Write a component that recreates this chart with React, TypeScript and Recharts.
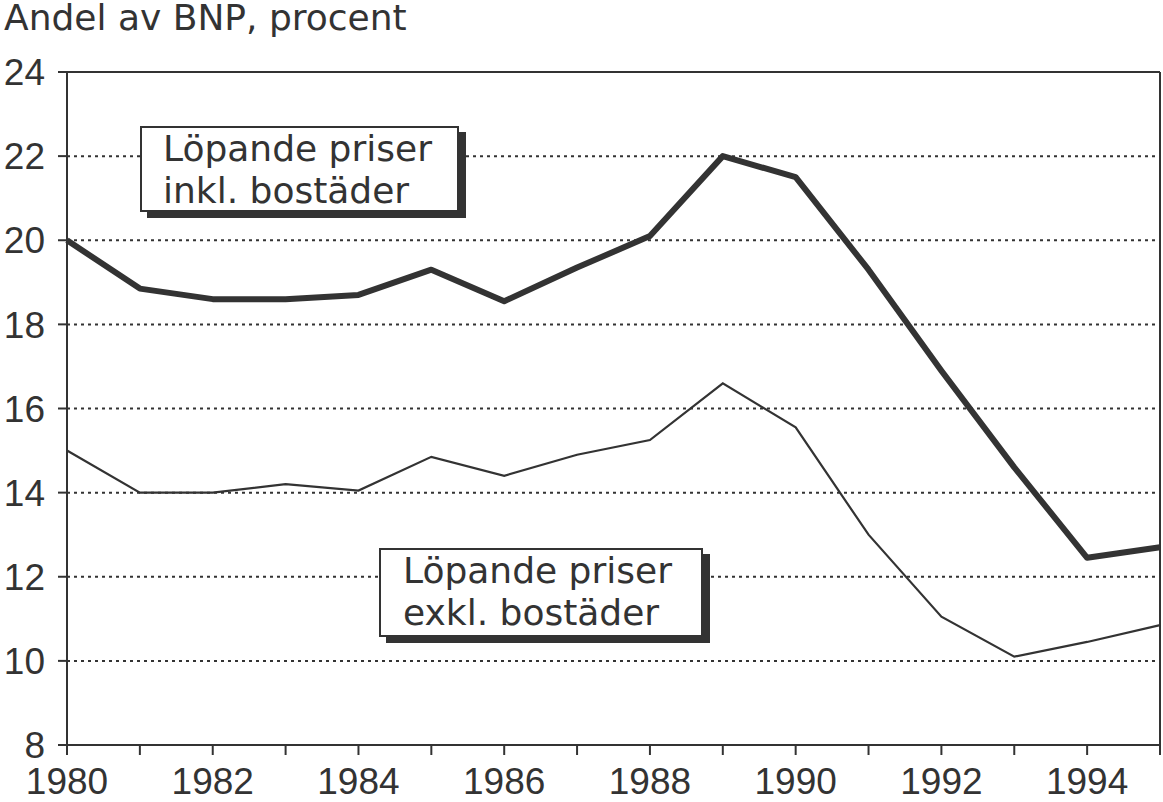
import { CartesianGrid, Line, LineChart, ReferenceLine, XAxis, YAxis } from "recharts";

const YEARS = [
  1980, 1981, 1982, 1983, 1984, 1985, 1986, 1987, 1988, 1989, 1990, 1991, 1992,
  1993, 1994, 1995,
];
const INKL_BOSTADER = [
  20.0, 18.85, 18.6, 18.6, 18.7, 19.3, 18.55, 19.35, 20.1, 22.0, 21.5, 19.3,
  16.9, 14.6, 12.45, 12.7,
];
const EXKL_BOSTADER = [
  15.0, 14.0, 14.0, 14.2, 14.05, 14.85, 14.4, 14.9, 15.25, 16.6, 15.55, 13.0,
  11.05, 10.1, 10.45, 10.85,
];
const X_LABELS = [1980, 1982, 1984, 1986, 1988, 1990, 1992, 1994];
const Y_TICKS = [8, 10, 12, 14, 16, 18, 20, 22, 24];

const INK = "#333";

const data = YEARS.map((year, i) => ({
  year,
  inkl: INKL_BOSTADER[i],
  exkl: EXKL_BOSTADER[i],
}));

const tickFont = {
  fontFamily: "'Liberation Sans', Arial, sans-serif",
  fontSize: 37,
  fill: INK,
};

const boxStyle: React.CSSProperties = {
  position: "absolute",
  boxSizing: "border-box",
  border: `2px solid ${INK}`,
  background: "#fff",
  boxShadow: `7px 6px 0 ${INK}`,
  fontFamily: "'DejaVu Sans', sans-serif",
  fontSize: 36,
  lineHeight: "42px",
  color: INK,
  whiteSpace: "nowrap",
};

export default function App() {
  return (
    <div
      style={{
        position: "absolute",
        left: 0,
        top: 0,
        width: 1163,
        height: 802,
        background: "#fff",
      }}
    >
      <div
        style={{
          position: "absolute",
          left: 4,
          top: 0,
          fontFamily: "'DejaVu Sans', sans-serif",
          fontSize: 36,
          lineHeight: "36px",
          color: INK,
        }}
      >
        Andel av BNP, procent
      </div>

      <LineChart
        width={1163}
        height={802}
        data={data}
        margin={{ top: 72, right: 3, bottom: 0, left: 0 }}
      >
        <CartesianGrid
          vertical={false}
          stroke={INK}
          strokeWidth={2}
          strokeDasharray="3 4"
        />
        <XAxis
          dataKey="year"
          type="number"
          domain={[1980, 1995]}
          ticks={YEARS}
          interval={0}
          tickFormatter={(v: number) => (X_LABELS.includes(v) ? String(v) : "")}
          height={57}
          tickSize={10}
          tickMargin={13}
          tick={tickFont}
          axisLine={{ stroke: INK, strokeWidth: 2 }}
          tickLine={{ stroke: INK, strokeWidth: 2 }}
        />
        <YAxis
          domain={[8, 24]}
          ticks={Y_TICKS}
          interval={0}
          width={67}
          tickSize={9}
          tickMargin={13}
          tick={tickFont}
          axisLine={{ stroke: INK, strokeWidth: 2 }}
          tickLine={{ stroke: INK, strokeWidth: 2 }}
        />
        <ReferenceLine y={24} stroke={INK} strokeWidth={2} />
        <ReferenceLine x={1995} stroke={INK} strokeWidth={2} />
        <Line
          dataKey="exkl"
          stroke={INK}
          strokeWidth={2.2}
          dot={false}
          isAnimationActive={false}
        />
        <Line
          dataKey="inkl"
          stroke={INK}
          strokeWidth={6}
          strokeLinejoin="round"
          dot={false}
          isAnimationActive={false}
        />
      </LineChart>

      <div
        style={{
          ...boxStyle,
          left: 140,
          top: 126,
          width: 319,
          height: 86,
          paddingLeft: 21,
        }}
      >
        Löpande priser
        <br />
        inkl. bostäder
      </div>
      <div
        style={{
          ...boxStyle,
          left: 379,
          top: 548,
          width: 324,
          height: 89,
          paddingLeft: 22,
        }}
      >
        Löpande priser
        <br />
        exkl. bostäder
      </div>
    </div>
  );
}
